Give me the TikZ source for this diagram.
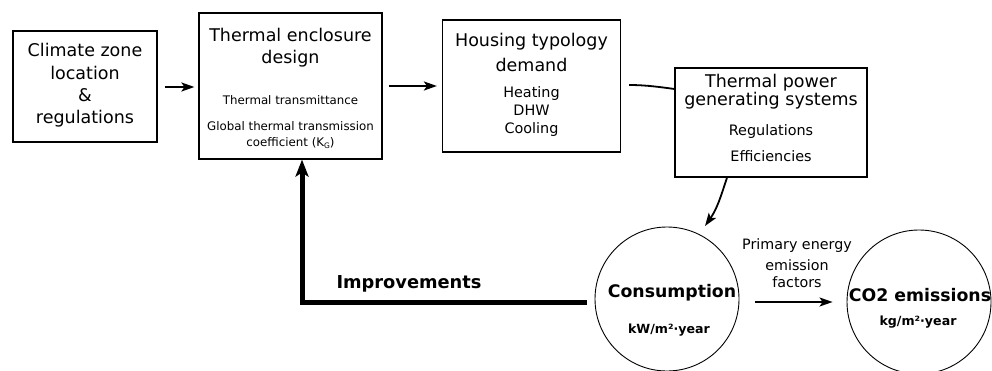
\documentclass[tikz,border=0pt]{standalone}
\usepackage{fontspec}
\setmainfont{DejaVu Sans}
\usetikzlibrary{arrows.meta,calc}

\begin{document}
\begin{tikzpicture}[x=1pt,y=-1pt,
  box/.style={draw, line width=1.2pt, inner sep=0pt},
  bubble/.style={draw, circle, line width=0.9pt, inner sep=0pt, minimum size=144pt},
  title/.style={anchor=base, inner sep=0pt, font=\fontsize{17.5}{20}\selectfont},
  small/.style={anchor=base, inner sep=0pt, font=\fontsize{11.8}{14}\selectfont},
  item/.style={anchor=base, inner sep=0pt, font=\fontsize{14.4}{17}\selectfont},
  note/.style={anchor=base, inner sep=0pt, font=\fontsize{14.3}{17}\selectfont},
  bigbold/.style={anchor=base, inner sep=0pt, font=\bfseries\fontsize{17.3}{20}\selectfont},
  unit/.style={anchor=base, inner sep=0pt, font=\bfseries\fontsize{12.6}{14}\selectfont},
  flow/.style={line width=1.8pt, -{Stealth[length=13pt,width=9pt,inset=3pt]}},
  link/.style={line width=1.8pt},
  feedback/.style={line width=5pt, -{Stealth[length=17pt,width=13pt,inset=4pt]}}
]
\useasboundingbox (0,0) rectangle (992,371);

% boxes
\node[box, minimum width=144pt, minimum height=111pt] (climate) at (85,86.5) {};
\node[box, minimum width=183pt, minimum height=146pt] (encl) at (290.5,86) {};
\node[box, minimum width=178pt, minimum height=132pt] (house) at (531.5,86) {};
\node[box, minimum width=192pt, minimum height=109pt] (power) at (771,122.5) {};

% circles
\node[bubble] (cons) at (667,299) {};
\node[bubble] (co2) at (919,302) {};

% texts of the climate box
\node[title] (c1) at (85,57) {Climate zone};
\node[title] (c2) at (85,80) {location};
\node[title] (c3) at (85,102) {\&};
\node[title] (c4) at (85,124) {regulations};

% texts of the enclosure box
\node[title] (e1) at (290.5,42) {Thermal enclosure};
\node[title] (e2) at (290.5,64) {design};
\node[small] (e3) at (290.5,105) {Thermal transmittance};
\node[small] (e4) at (290.5,131) {Global thermal transmission};
\node[small] (e5) at (290.5,147) {coefficient (K\raisebox{-1.5pt}{\fontsize{7.5}{8}\selectfont G})};

% texts of the demand box
\node[title] (h1) at (531.5,47) {Housing typology};
\node[title] (h2) at (531.5,72) {demand};
\node[item] (h3) at (531.5,98) {Heating};
\node[item] (h4) at (531.5,116) {DHW};
\node[item] (h5) at (531.5,134) {Cooling};

% texts of the generating systems box
\node[title] (p1) at (771,88) {Thermal power};
\node[title] (p2) at (771,106) {generating systems};
\node[item] (p3) at (771,136) {Regulations};
\node[item] (p4) at (771,162) {Efficiencies};

% texts of the circles
\node[bigbold] (k1) at (672,297) {Consumption};
\node[unit] (k2) at (669,333) {kW/m²·year};
\node[bigbold] (q1) at (920,301) {CO2 emissions};
\node[unit] (q2) at (918,325) {kg/m²·year};

% label of the emission arrow
\node[note] (f1) at (797,249) {Primary energy};
\node[note] (f2) at (797,270) {emission};
\node[note] (f3) at (797,287) {factors};

\node[bigbold, font=\bfseries\fontsize{17.8}{20}\selectfont] (imp) at (409,288) {Improvements};

% connectors
\draw[flow, shorten <=7pt, shorten >=4pt] (climate.east |- 0,87) -- (encl.west |- 0,87);
\draw[flow, shorten <=6pt, shorten >=5pt] (encl.east |- 0,86) -- (house.west |- 0,86);
\draw[link, shorten <=8pt] (house.east |- 0,85) to[out=0, in=172] (power.west |- 0,89);
\coordinate (pstart) at (727,177);
\draw[flow] (power.south -| pstart) to[out=-108, in=55] (705,226);
\coordinate (turn) at (302,302);
\draw[feedback] ($(cons.west)+(-8,3)$) -- (turn) -- (turn |- encl.south);
\draw[flow, shorten <=16pt, shorten >=14pt] (cons.east |- 0,302) -- (co2.west |- 0,302);
\end{tikzpicture}
\end{document}
